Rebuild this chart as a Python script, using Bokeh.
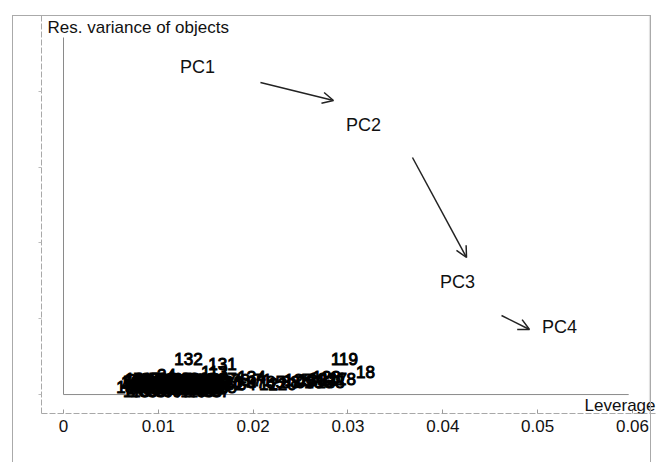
from bokeh.plotting import figure
from bokeh.models import (Range1d, Label, Arrow, OpenHead, BoxAnnotation, ColumnDataSource, FixedTicker,
                          InlineStyleSheet)
from bokeh.core.properties import value
from bokeh.embed import file_html
from bokeh.resources import INLINE

FONT = "Liberation Sans"

# sample (object) labels with leverage and residual variance
obj_ids = [45, 62, 3, 87, 29, 101,
           7, 56, 90, 14, 77, 112,
           38, 5, 66, 21, 93, 108,
           51, 70, 9, 83, 40, 127,
           2, 34, 58, 11, 95, 116,
           60, 47, 129, 105, 140, 44, 24, 113,
           15, 31, 48, 63, 79,
           16, 32, 49, 64, 80, 96,
           33, 50, 65, 81, 98, 128,
           19, 35, 53, 67, 84, 100,
           1, 4, 6, 8, 10, 13, 20, 22, 23, 25, 26, 27,
           17, 28, 30, 36, 37, 39, 41, 42, 43, 46, 55, 57,
           59, 61, 68, 69, 72, 74, 75, 76, 78, 82, 86, 89,
           91, 92, 94, 102, 103, 104, 106, 107, 109, 110, 111,
           126, 52, 73, 54, 97, 71, 12, 85, 120, 88, 125, 99, 130, 136,
           122, 123, 138, 117, 118, 18, 119, 132, 131, 134]
leverage = [0.00707, 0.00875, 0.01044, 0.01213, 0.01381, 0.01550,
            0.00791, 0.00960, 0.01128, 0.01297, 0.01466, 0.01634,
            0.00749, 0.00917, 0.01086, 0.01255, 0.01424, 0.01592,
            0.00833, 0.01002, 0.01170, 0.01339, 0.01508, 0.01677,
            0.00759, 0.00939, 0.01107, 0.01276, 0.01445, 0.01613,
            0.00917, 0.01255, 0.01424, 0.01550, 0.00707, 0.01086, 0.01086, 0.01592,
            0.00791, 0.00960, 0.01128, 0.01297, 0.01466,
            0.00707, 0.00875, 0.01044, 0.01213, 0.01381, 0.01550,
            0.00833, 0.01002, 0.01170, 0.01339, 0.01508, 0.01677,
            0.00749, 0.00917, 0.01086, 0.01255, 0.01424, 0.01592,
            0.00707, 0.00791, 0.00875, 0.00960, 0.01044, 0.01128, 0.01213, 0.01297, 0.01381, 0.01466,
            0.01550, 0.01634,
            0.00728, 0.00812, 0.00896, 0.00981, 0.01065, 0.01149, 0.01234, 0.01318, 0.01402, 0.01487,
            0.01571, 0.01656,
            0.00728, 0.00812, 0.00896, 0.00981, 0.01065, 0.01149, 0.01234, 0.01318, 0.01402, 0.01487,
            0.01571, 0.01656,
            0.00770, 0.00854, 0.00939, 0.01023, 0.01107, 0.01192, 0.01276, 0.01360, 0.01445, 0.01529,
            0.01613,
            0.01740, 0.01803, 0.01866, 0.01930, 0.02035, 0.02098, 0.02162, 0.02236, 0.02309, 0.02394,
            0.02478, 0.02552, 0.02626, 0.02689,
            0.02731, 0.02773, 0.02816, 0.02847, 0.02942, 0.03185, 0.02963, 0.01318, 0.01677, 0.01982]
res_var = [0.265, 0.265, 0.265, 0.265, 0.265, 0.265,
           0.344, 0.344, 0.344, 0.344, 0.344, 0.344,
           0.212, 0.212, 0.212, 0.212, 0.212, 0.212,
           0.397, 0.397, 0.397, 0.397, 0.397, 0.397,
           0.291, 0.291, 0.291, 0.291, 0.291, 0.291,
           0.186, 0.186, 0.186, 0.186, 0.186, 0.186, 0.503, 0.582,
           0.265, 0.265, 0.265, 0.265, 0.265,
           0.344, 0.344, 0.344, 0.344, 0.344, 0.344,
           0.212, 0.212, 0.212, 0.212, 0.212, 0.212,
           0.397, 0.397, 0.397, 0.397, 0.397, 0.397,
           0.160, 0.160, 0.160, 0.160, 0.160, 0.160, 0.160, 0.160, 0.160, 0.160, 0.160, 0.160,
           0.106, 0.106, 0.106, 0.106, 0.106, 0.106, 0.106, 0.106, 0.106, 0.106, 0.106, 0.106,
           0.318, 0.318, 0.318, 0.318, 0.318, 0.318, 0.318, 0.318, 0.318, 0.318, 0.318, 0.318,
           0.371, 0.371, 0.371, 0.371, 0.371, 0.371, 0.371, 0.371, 0.371, 0.371, 0.371,
           0.344, 0.291, 0.371, 0.291, 0.344, 0.371, 0.291, 0.344, 0.291, 0.344,
           0.371, 0.318, 0.371, 0.318,
           0.423, 0.450, 0.344, 0.397, 0.423, 0.582, 0.925, 0.951, 0.793, 0.450]

# PC markers
pc_names = ["PC1", "PC2", "PC3", "PC4"]
pc_lev = [0.01413, 0.03164, 0.04155, 0.05230]
pc_res = [8.654, 7.098, 2.982, 1.795]

# arrows between PC positions
arr_x0 = [0.02077, 0.03680, 0.04619]
arr_y0 = [8.232, 6.254, 2.085]
arr_x1 = [0.02847, 0.04250, 0.04914]
arr_y1 = [7.757, 3.616, 1.716]

x_ticks = [0, 0.01, 0.02, 0.03, 0.04, 0.05, 0.06]
tick_labels = {0: "0", 0.01: "0.01", 0.02: "0.02", 0.03: "0.03", 0.04: "0.04", 0.05: "0.05", 0.06: "0.06"}

p = figure(width=657, height=462, output_backend="svg", toolbar_location=None,
           x_range=Range1d(-0.00232, 0.06264), y_range=Range1d(-0.5, 10.0),
           min_border_left=41, min_border_right=0, min_border_top=15, min_border_bottom=49)
p.grid.visible = False
p.outline_line_color = None
p.background_fill_color = "white"
p.border_fill_color = "white"

# faint outer frame (left edge) and rule under the tick labels, outside the plot frame
p.stylesheets = [InlineStyleSheet(css="""
:host::before { content: ""; position: absolute; left: 35px; top: 440px; width: 620px; height: 0;
                border-top: 1px dashed #c8c8c8; pointer-events: none; }
:host::after  { content: ""; position: absolute; left: 12px; top: 15px; width: 637px; height: 460px;
                border-left: 1px solid #aaaaaa; border-top: 1px solid #aaaaaa; border-right: 1px solid #aaaaaa;
                pointer-events: none; }
""")]

xa = p.xaxis[0]
xa.ticker = FixedTicker(ticks=x_ticks)
xa.major_label_overrides = tick_labels
xa.axis_line_color = "#a8a8a8"
xa.axis_line_dash = "6 2"
xa.major_tick_line_color = "#9a9a9a"
xa.major_tick_in = 4
xa.major_tick_out = 0
xa.minor_tick_line_color = None
xa.major_label_standoff = 6
xa.major_label_text_font = FONT
xa.major_label_text_font_size = "17px"
xa.major_label_text_color = "#111111"

ya = p.yaxis[0]
ya.axis_line_color = "#a8a8a8"
ya.axis_line_dash = "6 2"
ya.major_label_text_color = None
ya.major_tick_line_color = "#bbbbbb"
ya.major_tick_in = 0
ya.major_tick_out = 3
ya.minor_tick_line_color = None

# zero lines
p.segment(x0=[0, 0], y0=[0, 0], x1=[0, 0.0596], y1=[9.42, 0], line_color="#8a8a8a", line_width=1)

src = ColumnDataSource(dict(x=leverage, y=res_var, t=[str(i) for i in obj_ids]))
p.text(x="x", y="y", text="t", source=src, text_font=value(FONT), text_font_size="17px",
       text_align="center", text_baseline="middle", text_color="black",
       text_outline_color="black")

p.text(x=pc_lev, y=pc_res, text=pc_names, text_font=value(FONT), text_font_size="18px",
       text_align="center", text_baseline="middle", text_color="#111111")

for a, b, c, d in zip(arr_x0, arr_y0, arr_x1, arr_y1):
    p.add_layout(Arrow(x_start=a, y_start=b, x_end=c, y_end=d, line_color="#222222", line_width=1.5,
                       end=OpenHead(size=11, line_color="#222222", line_width=1.5)))

# top and right edges of the frame
p.add_layout(BoxAnnotation(left=12, right=649, top=15, bottom=470,
                           left_units="canvas", right_units="canvas", top_units="canvas", bottom_units="canvas",
                           fill_color=None, line_color="#a0a0a0", line_width=1.2))

p.add_layout(Label(x=47, y=17, x_units="canvas", y_units="canvas", text="Res. variance of objects",
                   text_font=FONT, text_font_size="17px", text_baseline="top", text_color="#111111"))
p.add_layout(Label(x=655, y=405, x_units="canvas", y_units="canvas", text="Leverage",
                   text_font=FONT, text_font_size="17px", text_align="right", text_baseline="alphabetic",
                   text_color="#111111"))
p.add_layout(Label(x=17, y=454, x_units="canvas", y_units="canvas", text="troo-0, # of PCs:",
                   text_font=FONT, text_font_size="16px", text_baseline="middle", text_color="#111111"))
p.add_layout(Label(x=190, y=454, x_units="canvas", y_units="canvas", text="1",
                   text_font=FONT, text_font_size="16px", text_baseline="middle", text_color="#111111"))

open("out.html", "w").write(file_html(p, INLINE))
